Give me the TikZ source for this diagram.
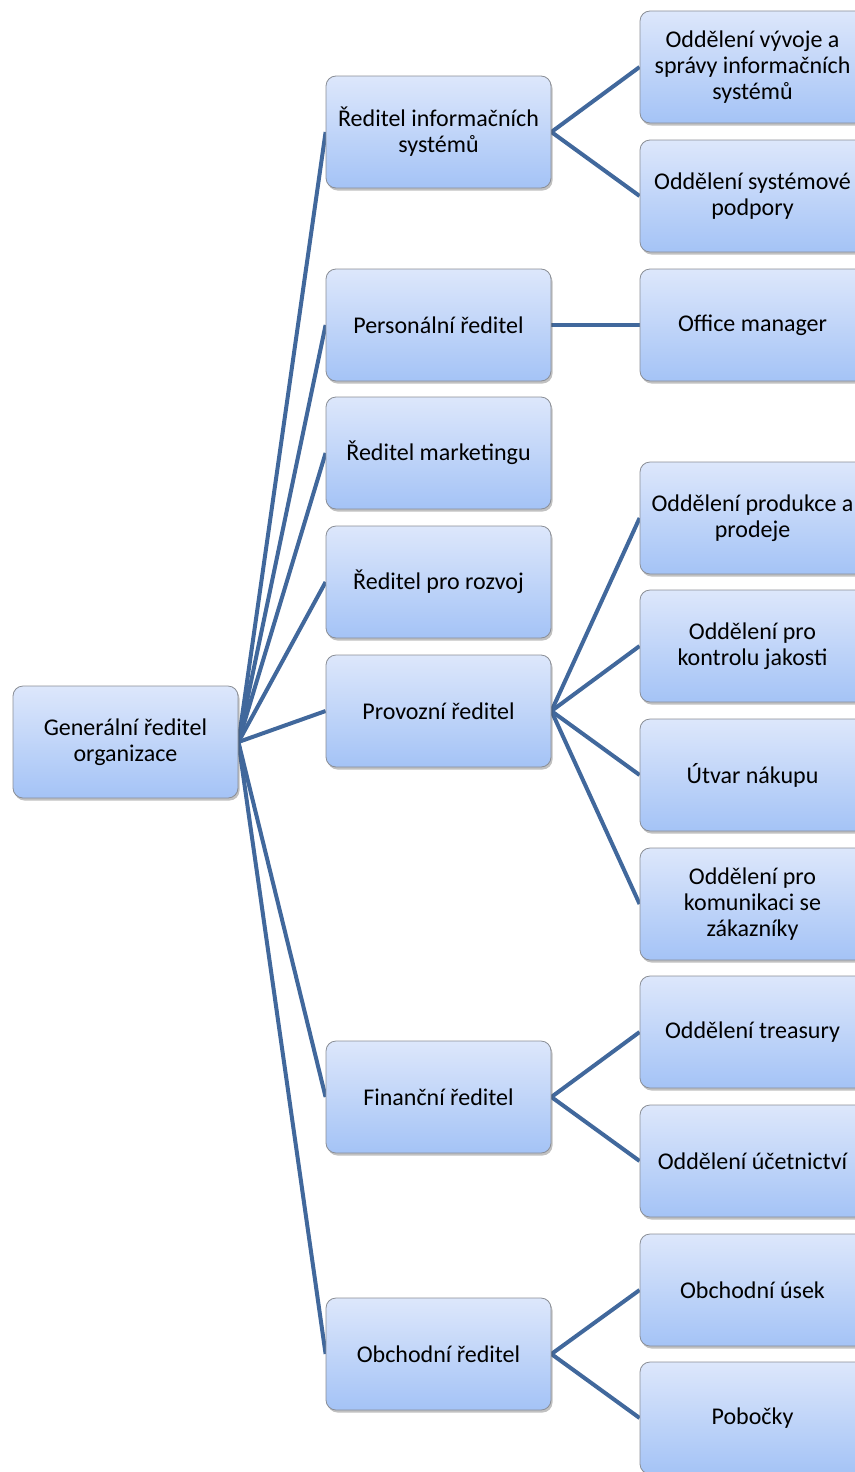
\documentclass[tikz,border=0pt]{standalone}
\usepackage{fontspec}
\setmainfont{Carlito}
\usetikzlibrary{shadows,backgrounds}
\definecolor{linecol}{HTML}{41689C}
\definecolor{topcol}{HTML}{DDE7FB}
\definecolor{botcol}{HTML}{A4C3F6}
\definecolor{bordcol}{HTML}{8A8E96}
\tikzset{
  box/.style={rectangle, rounded corners=10pt, draw=bordcol, line width=0.8pt,
    top color=topcol, bottom color=botcol,
    minimum width=225pt, minimum height=112pt, inner sep=0pt,
    align=center, font=\fontsize{24pt}{26pt}\selectfont,
    drop shadow={shadow xshift=1.5pt, shadow yshift=-2.5pt, opacity=0.35, fill=black!70}},
  conn/.style={draw=linecol, line width=4pt}
}
\begin{document}
\begin{tikzpicture}[x=1pt,y=-1pt]
\useasboundingbox (0,0) rectangle (854,1472);
\node[box] (root) at (125.5,742) {Generální ředitel\\organizace};
\node[box] (m1) at (438.5,132) {Ředitel informačních\\systémů};
\node[box] (m2) at (438.5,325) {Personální ředitel};
\node[box] (m3) at (438.5,453) {Ředitel marketingu};
\node[box] (m4) at (438.5,582) {Ředitel pro rozvoj};
\node[box] (m5) at (438.5,711) {Provozní ředitel};
\node[box] (m6) at (438.5,1097) {Finanční ředitel};
\node[box] (m7) at (438.5,1354) {Obchodní ředitel};
\node[box] (r1) at (752.5,67) {Oddělení vývoje a\\správy informačních\\systémů};
\node[box] (r2) at (752.5,196) {Oddělení systémové\\podpory};
\node[box] (r3) at (752.5,325) {Office manager};
\node[box] (r4) at (752.5,518) {Oddělení produkce a\\prodeje};
\node[box] (r5) at (752.5,646) {Oddělení pro\\kontrolu jakosti};
\node[box] (r6) at (752.5,775) {Útvar nákupu};
\node[box] (r7) at (752.5,904) {Oddělení pro\\komunikaci se\\zákazníky};
\node[box] (r8) at (752.5,1032) {Oddělení treasury};
\node[box] (r9) at (752.5,1161) {Oddělení účetnictví};
\node[box] (r10) at (752.5,1290) {Obchodní úsek};
\node[box] (r11) at (752.5,1418) {Pobočky};
\begin{pgfonlayer}{background}
\foreach \m in {m1,m2,m3,m4,m5,m6,m7}
  \draw[conn] (root.east) -- (\m.west);
\foreach \m/\r in {m1/r1,m1/r2,m2/r3,m5/r4,m5/r5,m5/r6,m5/r7,m6/r8,m6/r9,m7/r10,m7/r11}
  \draw[conn] (\m.east) -- (\r.west);
\end{pgfonlayer}
\end{tikzpicture}
\end{document}
